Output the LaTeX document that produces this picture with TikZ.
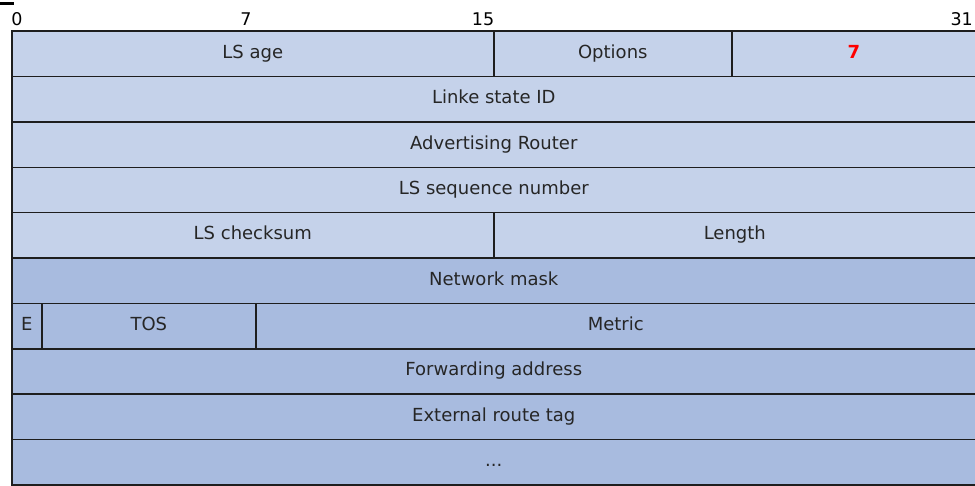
\documentclass[tikz,border=0pt]{standalone}
\usepackage{fontspec}
\setmainfont{DejaVu Sans}
\definecolor{lightrow}{HTML}{C5D2EA}
\definecolor{darkrow}{HTML}{A8BBDF}
\definecolor{gridline}{HTML}{1E1E1E}
\definecolor{redtxt}{HTML}{FF0000}
\begin{document}
\begin{tikzpicture}[x=1pt,y=-1pt,
  field/.style={draw=gridline,line width=1.6pt,inner sep=0pt,anchor=north west,
    minimum height=45.35pt,text height=13pt,text depth=4pt,
    font=\fontsize{18}{20}\selectfont,text=black!85},
  lightf/.style={field,fill=lightrow},
  darkf/.style={field,fill=darkrow},
  bitlbl/.style={inner sep=0pt,anchor=base,font=\fontsize{17.5}{20}\selectfont}]
\useasboundingbox (0,0) rectangle (975,486);
\fill[black] (0,2) rectangle (14,5);
% bit labels
\node[bitlbl] (b0) at (17,26) {0};
\node[bitlbl] (b7) at (246,26) {7};
\node[bitlbl] (b15) at (483,26) {15};
\node[bitlbl,anchor=base east] (b31) at (973,26) {31};
% row 1
\node[lightf,minimum width=482pt] (age) at (11,30.5) {LS age};
\node[lightf,minimum width=238pt] (opt) at (493,30.5) {Options};
\node[lightf,minimum width=244pt,text=redtxt,font=\fontsize{18}{20}\selectfont\bfseries] (type) at (731,30.5) {7};
% rows 2-4
\node[lightf,minimum width=964pt] (lsid) at (11,75.85) {Linke state ID};
\node[lightf,minimum width=964pt] (adv) at (11,121.2) {Advertising Router};
\node[lightf,minimum width=964pt] (seq) at (11,166.55) {LS sequence number};
% row 5
\node[lightf,minimum width=482pt] (cks) at (11,211.9) {LS checksum};
\node[lightf,minimum width=482pt] (len) at (493,211.9) {Length};
% row 6
\node[darkf,minimum width=964pt] (mask) at (11,257.25) {Network mask};
% row 7
\node[darkf,minimum width=30pt] (e) at (11,302.6) {E};
\node[darkf,minimum width=214pt] (tos) at (41,302.6) {TOS};
\node[darkf,minimum width=720pt] (metric) at (255,302.6) {Metric};
% rows 8-10
\node[darkf,minimum width=964pt] (fwd) at (11,347.95) {Forwarding address};
\node[darkf,minimum width=964pt] (tag) at (11,393.3) {External route tag};
\node[darkf,minimum width=964pt] (more) at (11,438.65) {...};
\end{tikzpicture}
\end{document}
